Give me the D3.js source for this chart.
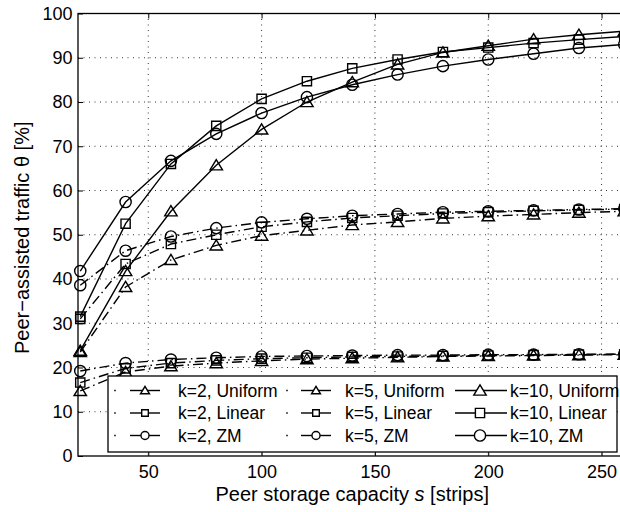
<!DOCTYPE html>
<html>
<head>
<meta charset="utf-8">
<script src="https://cdn.jsdelivr.net/npm/d3@7"></script>
<style>
  body { margin: 0; background: #fff; }
  svg { display: block; }
  text { font-family: "Liberation Sans", Arial, Helvetica, sans-serif; fill: #000; }
</style>
</head>
<body>
<svg id="chart" width="620" height="512"></svg>
<script>
// Peer storage capacity s [strips]
const storage = [20, 40, 60, 80, 100, 120, 140, 160, 180, 200, 220, 240, 260];

// Peer-assisted traffic (%) per popularity model and k
const k2Uniform  = [14.7, 19.0, 20.3, 21.0, 21.5, 21.9, 22.1, 22.3, 22.5, 22.6, 22.7, 22.8, 22.9];
const k2Linear   = [16.6, 19.8, 21.0, 21.6, 22.0, 22.2, 22.4, 22.5, 22.6, 22.7, 22.8, 22.9, 23.0];
const k2ZM       = [19.2, 21.0, 21.8, 22.2, 22.5, 22.6, 22.7, 22.8, 22.8, 22.9, 22.9, 23.0, 23.0];

const k5Uniform  = [23.5, 38.2, 44.3, 47.6, 49.8, 51.0, 52.2, 52.9, 53.7, 54.2, 54.6, 55.0, 55.3];
const k5Linear   = [31.0, 43.4, 47.9, 50.0, 51.8, 52.9, 53.8, 54.3, 54.8, 55.1, 55.4, 55.6, 55.8];
const k5ZM       = [38.6, 46.4, 49.6, 51.5, 52.8, 53.6, 54.3, 54.7, 55.1, 55.3, 55.5, 55.7, 55.9];

const k10Uniform = [23.8, 41.8, 55.3, 65.7, 73.8, 80.0, 84.5, 88.5, 91.2, 92.7, 94.2, 95.2, 96.0];
const k10Linear  = [31.5, 52.5, 66.0, 74.6, 80.7, 84.7, 87.6, 89.6, 91.3, 92.3, 93.3, 94.1, 94.8];
const k10ZM      = [41.8, 57.4, 66.7, 72.8, 77.5, 81.1, 83.9, 86.2, 88.1, 89.6, 90.9, 92.2, 93.0];

const xTicks = [50, 100, 150, 200, 250];
const yTicks = [0, 10, 20, 30, 40, 50, 60, 70, 80, 90, 100];

const xLabel = "Peer storage capacity ";
const xLabelVar = "s";
const xLabelUnit = " [strips]";
const yLabel = "Peer\u2212assisted traffic \u03b8 [%]";

const series = [
  { label: "k=2, Uniform",  values: k2Uniform,  marker: "triangle", dashed: true,  col: 0, row: 0 },
  { label: "k=2, Linear",   values: k2Linear,   marker: "square",   dashed: true,  col: 0, row: 1 },
  { label: "k=2, ZM",       values: k2ZM,       marker: "circle",   dashed: true,  col: 0, row: 2 },
  { label: "k=5, Uniform",  values: k5Uniform,  marker: "triangle", dashed: true,  col: 1, row: 0 },
  { label: "k=5, Linear",   values: k5Linear,   marker: "square",   dashed: true,  col: 1, row: 1 },
  { label: "k=5, ZM",       values: k5ZM,       marker: "circle",   dashed: true,  col: 1, row: 2 },
  { label: "k=10, Uniform", values: k10Uniform, marker: "triangle", dashed: false, col: 2, row: 0 },
  { label: "k=10, Linear",  values: k10Linear,  marker: "square",   dashed: false, col: 2, row: 1 },
  { label: "k=10, ZM",      values: k10ZM,      marker: "circle",   dashed: false, col: 2, row: 2 }
];

const svg = d3.select("#chart");
const plot = { left: 78, right: 626.5, top: 13.5, bottom: 456 };

const x = d3.scaleLinear().domain([19, 261]).range([plot.left, plot.right]);
const y = d3.scaleLinear().domain([0, 100]).range([plot.bottom, plot.top]);

const DASHDOT = "10,4,1.5,4";
const LW = 1.4;

// marker outlines, centred on the point
function markerPath(kind, s) {
  if (kind === "triangle") {
    return `M0,${-5.6 * s}L${6.2 * s},${4.6 * s}L${-6.2 * s},${4.6 * s}Z`;
  }
  if (kind === "square") {
    const h = 4.6 * s;
    return `M${-h},${-h}H${h}V${h}H${-h}Z`;
  }
  const r = 5.6 * s;
  return `M${r},0A${r},${r} 0 1,1 ${-r},0A${r},${r} 0 1,1 ${r},0Z`;
}

// grid
const grid = svg.append("g").attr("stroke", "#333").attr("stroke-width", 1)
  .attr("stroke-dasharray", "1,4.5").attr("fill", "none");
grid.selectAll("line.v").data(xTicks).join("line")
  .attr("x1", d => x(d)).attr("x2", d => x(d))
  .attr("y1", plot.top).attr("y2", plot.bottom);
grid.selectAll("line.h").data(yTicks.filter(d => d > 0 && d < 100)).join("line")
  .attr("x1", plot.left).attr("x2", plot.right)
  .attr("y1", d => y(d)).attr("y2", d => y(d));

// axes with inward ticks
const xAxis = svg.append("g").attr("transform", `translate(0,${plot.bottom})`)
  .call(d3.axisBottom(x).tickValues(xTicks).tickSizeInner(-5).tickSizeOuter(0).tickPadding(9));
const xAxisTop = svg.append("g").attr("transform", `translate(0,${plot.top})`)
  .call(d3.axisTop(x).tickValues(xTicks).tickSizeInner(-5).tickSizeOuter(0).tickFormat(""));
const yAxis = svg.append("g").attr("transform", `translate(${plot.left},0)`)
  .call(d3.axisLeft(y).tickValues(yTicks).tickSizeInner(-5).tickSizeOuter(0).tickPadding(5.5));
[xAxis, xAxisTop, yAxis].forEach(g => {
  g.select(".domain").remove();
  g.selectAll(".tick line").attr("stroke", "#000").attr("stroke-width", 1);
  g.selectAll(".tick text").attr("font-size", 18)
    .attr("font-family", "'Liberation Sans', Arial, Helvetica, sans-serif");
});

// frame
svg.append("rect")
  .attr("x", plot.left).attr("y", plot.top)
  .attr("width", plot.right - plot.left).attr("height", plot.bottom - plot.top)
  .attr("fill", "none").attr("stroke", "#000").attr("stroke-width", 1.3);

// series lines and markers
const line = d3.line().x((d, i) => x(storage[i])).y(d => y(d));
const marks = svg.append("g");
series.forEach(s => {
  const g = marks.append("g");
  g.append("path")
    .attr("d", line(s.values))
    .attr("fill", "none").attr("stroke", "#000").attr("stroke-width", LW)
    .attr("stroke-dasharray", s.dashed ? DASHDOT : null);
  g.selectAll("path.m").data(s.values).join("path")
    .attr("class", "m")
    .attr("transform", (d, i) => `translate(${x(storage[i])},${y(d)})`)
    .attr("d", markerPath(s.marker, 1))
    .attr("fill", "none").attr("stroke", "#000").attr("stroke-width", LW);
});

// legend
const legend = svg.append("g");
legend.append("rect")
  .attr("x", 108).attr("y", 376).attr("width", 509).attr("height", 76)
  .attr("fill", "#fff").attr("stroke", "#000").attr("stroke-width", 1.3);

const rowY = [390.5, 413, 435.5];
const colLayout = [
  { dot: 115, x1: 130, x2: 160, mx: 145, tx: 178 },
  { dot: 287, x1: 301, x2: 331, mx: 316, tx: 345 },
  { dot: null, x1: 455, x2: 507, mx: 480, tx: 510 }
];
series.forEach(s => {
  const c = colLayout[s.col];
  const ry = rowY[s.row];
  const g = legend.append("g");
  if (c.dot !== null) {
    g.append("line").attr("x1", c.dot - 0.75).attr("x2", c.dot + 0.75)
      .attr("y1", ry).attr("y2", ry).attr("stroke", "#000").attr("stroke-width", LW);
  }
  g.append("line").attr("x1", c.x1).attr("x2", c.x2).attr("y1", ry).attr("y2", ry)
    .attr("stroke", "#000").attr("stroke-width", LW);
  g.append("path")
    .attr("transform", `translate(${c.mx},${ry})`)
    .attr("d", markerPath(s.marker, s.dashed ? 0.72 : 1))
    .attr("fill", "#fff").attr("stroke", "#000").attr("stroke-width", LW);
  g.append("text").attr("x", c.tx).attr("y", ry).attr("dy", "0.36em")
    .attr("font-size", 17.5).text(s.label);
});

// axis titles
const xt = svg.append("text")
  .attr("x", (plot.left + plot.right) / 2).attr("y", 501)
  .attr("text-anchor", "middle").attr("font-size", 20);
xt.append("tspan").text(xLabel);
xt.append("tspan").attr("font-style", "italic").text(xLabelVar);
xt.append("tspan").text(xLabelUnit);

svg.append("text")
  .attr("transform", `translate(29,${(plot.top + plot.bottom) / 2 + 3}) rotate(-90)`)
  .attr("text-anchor", "middle").attr("font-size", 20)
  .text(yLabel);
</script>
</body>
</html>
